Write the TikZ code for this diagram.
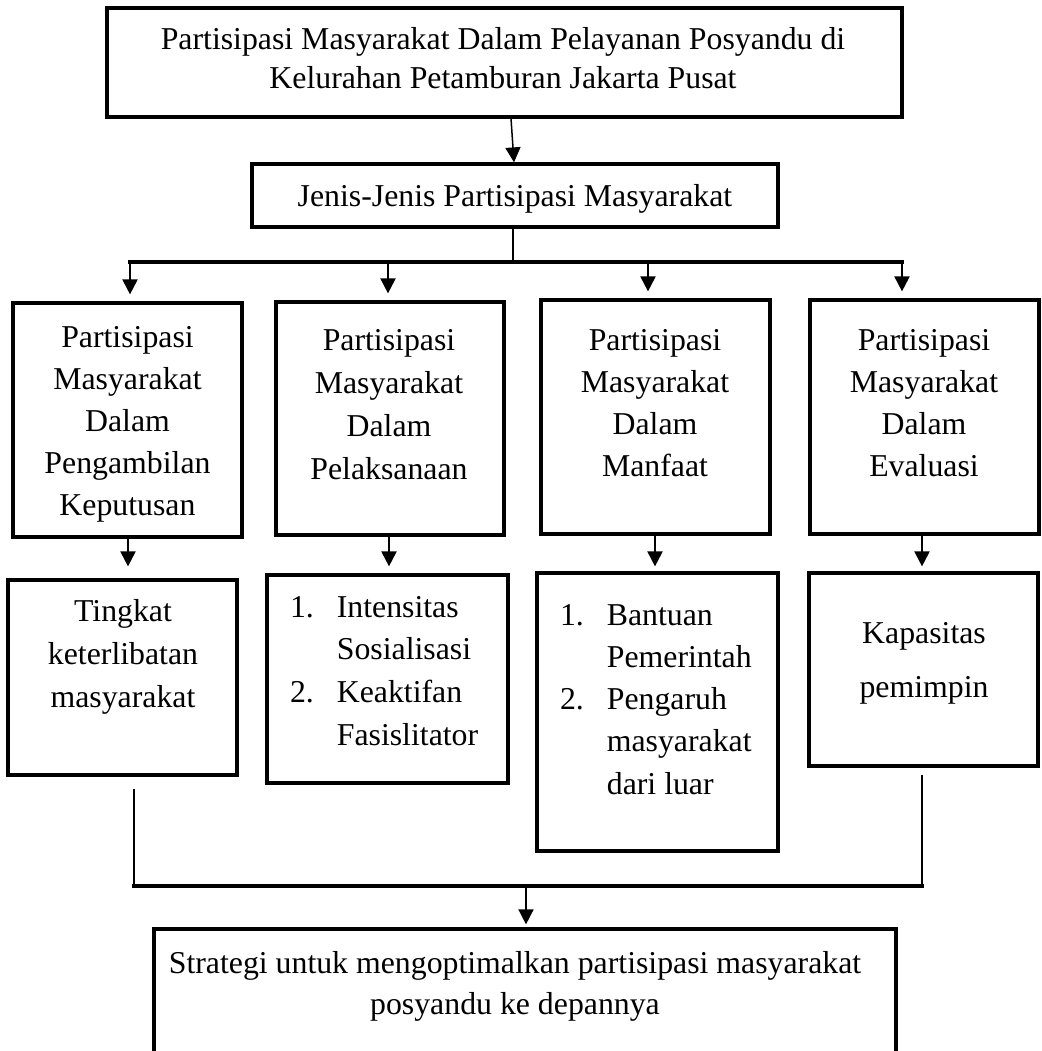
\documentclass[tikz,border=0pt]{standalone}
\usepackage{fontspec}
\setmainfont{Liberation Serif}
\usetikzlibrary{arrows.meta,fit}
\newcommand\clines[2]{\fontsize{31.8}{#1}\selectfont\begin{tabular}[t]{@{}c@{}}#2\end{tabular}}
\newcommand\nlines[2]{\fontsize{31.8}{#1}\selectfont\begin{tabular}[t]{@{}l@{\hspace{23pt}}l@{}}#2\end{tabular}}
\begin{document}
\begin{tikzpicture}[x=1pt,y=-1pt,
  box/.style={draw, line width=3.2pt, rectangle, inner sep=0pt},
  txt/.style={inner sep=0pt, outer sep=0pt},
  conn/.style={line width=2pt},
  arr/.style={line width=2pt, -{Triangle[width=15pt,length=15pt]}},
  thinarr/.style={line width=1.5pt, -{Triangle[width=15pt,length=15pt]}},
  barline/.style={line width=3.2pt, line cap=rect}]
\clip (0,0) rectangle (1041,1051);
\fill[white] (0,0) rectangle (1041,1051);
% boxes
\node[box, fit={(107,8)(902,117)}] (top) {};
\node[box, fit={(252,164)(778,227)}] (jenis) {};
\node[box, fit={(13,303)(242,537)}] (b1) {};
\node[box, fit={(276,302)(504,535)}] (b2) {};
\node[box, fit={(541,300)(770,534)}] (b3) {};
\node[box, fit={(810,300)(1039,534)}] (b4) {};
\node[box, fit={(8,580)(237,775)}] (b5) {};
\node[box, fit={(267,575)(508,783)}] (b6) {};
\node[box, fit={(537,573)(778,851)}] (b7) {};
\node[box, fit={(809,573)(1038,766)}] (b8) {};
\node[box, fit={(154,929)(896,1080)}] (bot) {};
% texts
\node[txt, anchor=base] (t0) at (503,50) {\clines{39}{Partisipasi Masyarakat Dalam Pelayanan Posyandu di\\Kelurahan Petamburan Jakarta Pusat}};
\node[txt, anchor=base] (tj) at (515,206) {\clines{40}{Jenis-Jenis Partisipasi Masyarakat}};
\node[txt, anchor=base] (t1) at (127.5,347) {\clines{42}{Partisipasi\\Masyarakat\\Dalam\\Pengambilan\\Keputusan}};
\node[txt, anchor=base] (t2) at (389,350) {\clines{43}{Partisipasi\\Masyarakat\\Dalam\\Pelaksanaan}};
\node[txt, anchor=base] (t3) at (655,350) {\clines{42.3}{Partisipasi\\Masyarakat\\Dalam\\Manfaat}};
\node[txt, anchor=base] (t4) at (924,350) {\clines{42.3}{Partisipasi\\Masyarakat\\Dalam\\Evaluasi}};
\node[txt, anchor=base] (t5) at (123,621) {\clines{43}{Tingkat\\keterlibatan\\masyarakat}};
\node[txt, anchor=base west] (t6) at (290,617) {\nlines{42.7}{1.&Intensitas\\&Sosialisasi\\2.&Keaktifan\\&Fasislitator}};
\node[txt, anchor=base west] (t7) at (560,625) {\nlines{42.3}{1.&Bantuan\\&Pemerintah\\2.&Pengaruh\\&masyarakat\\&dari luar}};
\node[txt, anchor=base] (t8) at (924,643) {\clines{54}{Kapasitas\\pemimpin}};
\node[txt, anchor=base] (tb) at (515,973) {\clines{41}{Strategi untuk mengoptimalkan partisipasi masyarakat\\posyandu ke depannya}};
% connectors top
\draw[thinarr] ([xshift=6.5pt]top.south) -- ([xshift=-1pt]jenis.north);
\coordinate (jb) at (513,262);
\coordinate (j1) at (130,262);
\coordinate (j2) at (388,262);
\coordinate (j3) at (648,262);
\coordinate (j4) at (902,262);
\draw[conn] ([xshift=-2pt]jenis.south) -- (jb);
\draw[barline] (j1) -- (j4);
\foreach \i in {1,...,4} {\draw[arr, shorten >=7pt] (j\i) -- (j\i |- b\i.north);}
% middle arrows
\draw[arr, shorten >=12pt] ([xshift=0.5pt]b1.south) -- ([xshift=5.5pt]b5.north);
\draw[arr, shorten >=7pt] ([xshift=-1pt]b2.south) -- ([xshift=1.5pt]b6.north);
\draw[arr, shorten >=5pt] ([xshift=-0.5pt]b3.south) -- ([xshift=-2.5pt]b7.north);
\draw[arr, shorten >=5pt] ([xshift=-2.5pt]b4.south) -- ([xshift=-1.5pt]b8.north);
% bottom
\coordinate (k1) at (134,886);
\coordinate (k2) at (922,886);
\coordinate (km) at (526,886);
\draw[conn, shorten <=12pt] ([xshift=11.5pt]b5.south) -- (k1);
\draw[conn, shorten <=7pt] ([xshift=-1.5pt]b8.south) -- (k2);
\draw[barline] (k1) -- (k2);
\draw[thinarr, shorten >=3pt] (km) -- (km |- bot.north);
\end{tikzpicture}
\end{document}
